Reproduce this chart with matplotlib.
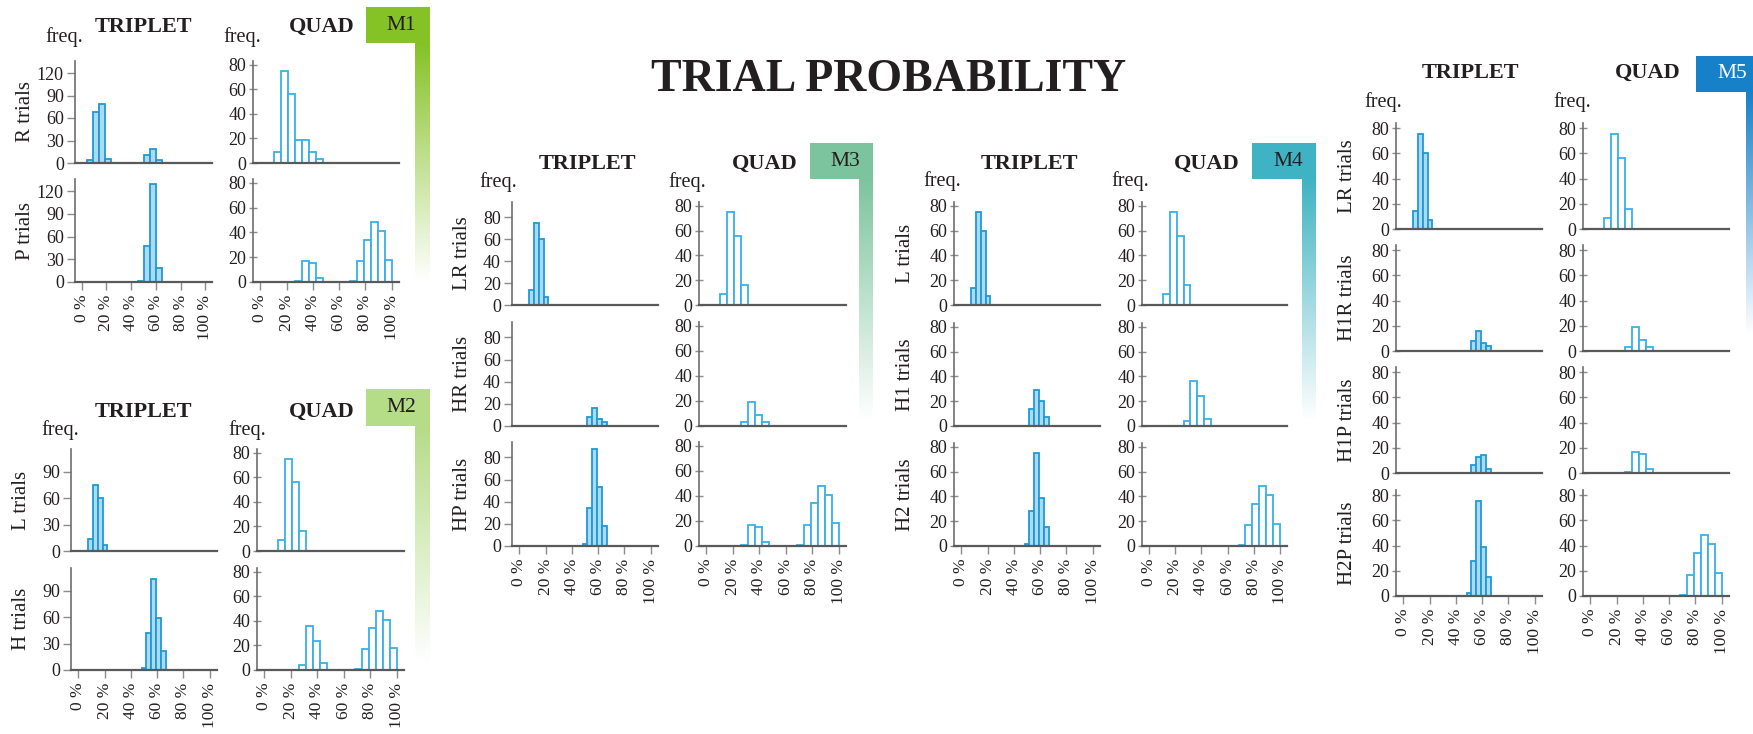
import numpy as np
import matplotlib
matplotlib.use("Agg")
import matplotlib.pyplot as plt
from matplotlib.patches import Rectangle
from matplotlib.colors import to_rgb

plt.rcParams['font.family'] = 'serif'
plt.rcParams['font.serif'] = ['Liberation Serif', 'DejaVu Serif']

W, H = 1753, 734

# bin left edges, % of trials
tri_low = [7.4, 11.1, 14.8, 18.5]
tri_high = [48.1, 51.9, 55.6, 59.3, 63.0]
quad_low = [10.5, 15.8, 21.1, 26.3, 31.6, 36.8, 42.1]
quad_mid = [26.3, 31.6, 36.8, 42.1]
quad_high = [68.4, 73.7, 78.9, 84.2, 89.5, 94.7]

# M1 (wider triplet bins)
m1_tri_r_x = [4.0, 8.9, 13.8, 18.6, 50.5, 55.4, 60.3]
m1_tri_r = [4, 68, 79, 5, 11, 19, 4]
m1_tri_p_x = [45.6, 50.5, 55.4, 60.3]
m1_tri_p = [1, 47, 129, 18]
m1_quad_r = [9, 75, 56, 19, 19, 9, 3]
m1_quad_p = [1, 17, 15, 3, 1, 17, 34, 48, 41, 18]

# M2
m2_tri_l = [14, 75, 60, 7]
m2_tri_h = [2, 42, 104, 59, 22]
m2_quad_l = [9, 75, 56, 16]
m2_quad_h = [4, 36, 24, 6, 1, 17, 34, 48, 41, 18]

# M3
m3_tri_lr = [14, 75, 60, 7]
m3_tri_hr = [8, 16, 6, 4]
m3_tri_hp = [2, 34, 88, 53, 18]
m3_quad_lr = [9, 75, 56, 16]
m3_quad_hr = [3, 19, 9, 3]
m3_quad_hp = [1, 17, 15, 3, 1, 17, 34, 48, 41, 18]

# M4
m4_tri_l = [14, 75, 60, 7]
m4_tri_h1 = [14, 29, 20, 7]
m4_tri_h2 = [2, 28, 75, 39, 15]
m4_quad_l = [9, 75, 56, 16]
m4_quad_h1 = [4, 36, 24, 6]
m4_quad_h2 = [1, 17, 34, 48, 41, 18]

# M5
m5_tri_lr = [14, 75, 60, 7]
m5_tri_h1r = [8, 16, 6, 4]
m5_tri_h1p = [6, 13, 14, 3]
m5_tri_h2p = [2, 28, 75, 39, 15]
m5_quad_lr = [9, 75, 56, 16]
m5_quad_h1r = [3, 19, 9, 3]
m5_quad_h1p = [1, 17, 15, 3]
m5_quad_h2p = [1, 17, 34, 48, 41, 18]

TRI_W = 100 / 27
QUAD_W = 100 / 19

blocks = [
    dict(name='M1', color='#84c225', tcolor='#231f20',
         tri_x=(75, 212), quad_x=(253, 399), rows=[(61, 163), (179, 282)],
         head_y=27, freq_y=37, head_x=(143, 322), freq_x=(64, 242),
         box=(366, 7, 430, 43), bar=(415, 43, 430, 282),
         labels=['R trials', 'P trials'],
         tri=[(m1_tri_r_x, m1_tri_r), (m1_tri_p_x, m1_tri_p)],
         quad=[(quad_low, m1_quad_r), (quad_mid + quad_high, m1_quad_p)],
         tri_w=4.86, tri_ticks=[0, 30, 60, 90, 120], tri_top=136, quad_top=83,
         tri_dir='out'),
    dict(name='M2', color='#b5dc87', tcolor='#231f20',
         tri_x=(71, 217), quad_x=(257, 404), rows=[(449, 551), (568, 670)],
         head_y=412, freq_y=430, head_x=(143, 322), freq_x=(60, 247),
         box=(366, 389, 430, 426), bar=(415, 426, 430, 663),
         labels=['L trials', 'H trials'],
         tri=[(tri_low, m2_tri_l), (tri_high, m2_tri_h)],
         quad=[(quad_low[:4], m2_quad_l), (quad_mid + quad_high, m2_quad_h)],
         tri_w=TRI_W, tri_ticks=[0, 30, 60, 90], tri_top=116, quad_top=83,
         tri_dir='out'),
    dict(name='M3', color='#7cc49d', tcolor='#231f20',
         tri_x=(512, 658), quad_x=(699, 846),
         rows=[(202, 305), (322, 426), (442, 546)],
         head_y=164, freq_y=182, head_x=(587, 765), freq_x=(498, 687),
         box=(810, 143, 873, 179), bar=(859, 179, 873, 420),
         labels=['LR trials', 'HR trials', 'HP trials'],
         tri=[(tri_low, m3_tri_lr), (tri_high[1:], m3_tri_hr), (tri_high, m3_tri_hp)],
         quad=[(quad_low[:4], m3_quad_lr), (quad_mid, m3_quad_hr),
               (quad_mid + quad_high, m3_quad_hp)],
         tri_w=TRI_W, tri_ticks=[0, 20, 40, 60, 80], tri_top=94, quad_top=83,
         tri_dir='out'),
    dict(name='M4', color='#3fb3c3', tcolor='#231f20',
         tri_x=(954, 1100), quad_x=(1142, 1287),
         rows=[(202, 305), (323, 426), (443, 546)],
         head_y=164, freq_y=181, head_x=(1029, 1207), freq_x=(942, 1130),
         box=(1252, 143, 1316, 179), bar=(1302, 179, 1316, 420),
         labels=['L trials', 'H1 trials', 'H2 trials'],
         tri=[(tri_low, m4_tri_l), (tri_high[1:], m4_tri_h1), (tri_high, m4_tri_h2)],
         quad=[(quad_low[:4], m4_quad_l), (quad_mid, m4_quad_h1), (quad_high, m4_quad_h2)],
         tri_w=TRI_W, tri_ticks=[0, 20, 40, 60, 80], tri_top=83, quad_top=83,
         tri_dir='inout'),
    dict(name='M5', color='#1680c8', tcolor='white',
         tri_x=(1396, 1542), quad_x=(1583, 1729),
         rows=[(123, 229), (245, 351), (367, 473), (490, 596)],
         head_y=73, freq_y=102, head_x=(1470, 1648), freq_x=(1383, 1572),
         box=(1696, 56, 1753, 92), bar=(1746, 92, 1753, 335),
         labels=['LR trials', 'H1R trials', 'H1P trials', 'H2P trials'],
         tri=[(tri_low, m5_tri_lr), (tri_high[1:], m5_tri_h1r),
              (tri_high[1:], m5_tri_h1p), (tri_high, m5_tri_h2p)],
         quad=[(quad_low[:4], m5_quad_lr), (quad_mid, m5_quad_h1r),
               (quad_mid, m5_quad_h1p), (quad_high, m5_quad_h2p)],
         tri_w=TRI_W, tri_ticks=[0, 20, 40, 60, 80], tri_top=84, quad_top=84,
         tri_dir='inout'),
]

fig = plt.figure(figsize=(W / 100, H / 100), dpi=100)
TXT = '#231f20'
GRAY = '#8a8c8e'


def px_axes(x0, x1, y0, y1):
    return fig.add_axes([x0 / W, 1 - y1 / H, (x1 - x0) / W, (y1 - y0) / H])


def style(ax, top, ticks, direction, bottom_row):
    for s in ['top', 'right']:
        ax.spines[s].set_visible(False)
    ax.spines['left'].set_color('#6d6e71')
    ax.spines['left'].set_linewidth(1.2)
    ax.spines['bottom'].set_color('#58595b')
    ax.spines['bottom'].set_linewidth(1.6)
    ax.set_xlim(-5.5, 105.5)
    ax.set_ylim(0, top)
    ax.set_yticks(ticks)
    ax.tick_params(axis='y', direction=direction, length=6, width=1, color=GRAY,
                   labelsize=13, labelcolor=TXT, pad=2)
    if bottom_row:
        ax.set_xticks(range(0, 101, 20))
        ax.set_xticklabels([f'{v} %' for v in range(0, 101, 20)], rotation=90)
        ax.tick_params(axis='x', direction='out', length=6, width=1, color=GRAY,
                       labelsize=12.5, labelcolor=TXT, pad=3)
    else:
        ax.set_xticks([])


def gradient_bar(x0, y0, x1, y1, color):
    ax = px_axes(x0, x1, y0, y1)
    img = np.ones((256, 1, 4))
    img[..., :3] = to_rgb(color)
    img[:, 0, 3] = np.linspace(1, 0, 256)
    ax.imshow(img, aspect='auto', extent=[0, 1, 0, 1], interpolation='bilinear')
    ax.axis('off')


for b in blocks:
    n = len(b['rows'])
    for i, (y0, y1) in enumerate(b['rows']):
        last = i == n - 1
        ax = px_axes(b['tri_x'][0], b['tri_x'][1], y0, y1)
        x, h = b['tri'][i]
        ax.bar(x, h, width=b['tri_w'], align='edge', color='#abdaf2',
               edgecolor='#1f9ad6', linewidth=1.3, zorder=2)
        style(ax, b['tri_top'], b['tri_ticks'], b['tri_dir'], last)
        # row label, centred ~49 px left of the y spine
        fig.text((b['tri_x'][0] - 49) / W, 1 - (y0 + y1) / 2 / H, b['labels'][i],
                 rotation=90, ha='center', va='center', fontsize=15, color=TXT)

        ax = px_axes(b['quad_x'][0], b['quad_x'][1], y0, y1)
        x, h = b['quad'][i]
        ax.bar(x, h, width=QUAD_W, align='edge', color='white',
               edgecolor='#38b0e8', linewidth=1.3, zorder=2)
        style(ax, b['quad_top'], [0, 20, 40, 60, 80], 'inout', last)

    fig.text(b['head_x'][0] / W, 1 - b['head_y'] / H, 'TRIPLET', ha='center',
             va='center', fontsize=16, fontweight='bold', color=TXT)
    fig.text(b['head_x'][1] / W, 1 - b['head_y'] / H, 'QUAD', ha='center',
             va='center', fontsize=16, fontweight='bold', color=TXT)
    for fxp in b['freq_x']:
        fig.text(fxp / W, 1 - b['freq_y'] / H, 'freq.', ha='center', va='center',
                 fontsize=14.5, color=TXT)

    bx0, by0, bx1, by1 = b['box']
    fig.add_artist(Rectangle((bx0 / W, 1 - by1 / H), (bx1 - bx0) / W, (by1 - by0) / H,
                             transform=fig.transFigure, facecolor=b['color'],
                             edgecolor='none'))
    gradient_bar(*b['bar'], b['color'])
    fig.text((b['bar'][0] + 1) / W, 1 - (by0 + by1) / 2 / H, b['name'], ha='right',
             va='center', fontsize=15.5, color=b['tcolor'])

fig.text(889 / W, 1 - 80 / H, 'TRIAL PROBABILITY', ha='center', va='center',
         fontsize=33, fontweight='bold', color=TXT)

fig.savefig('out.png', dpi=100)
